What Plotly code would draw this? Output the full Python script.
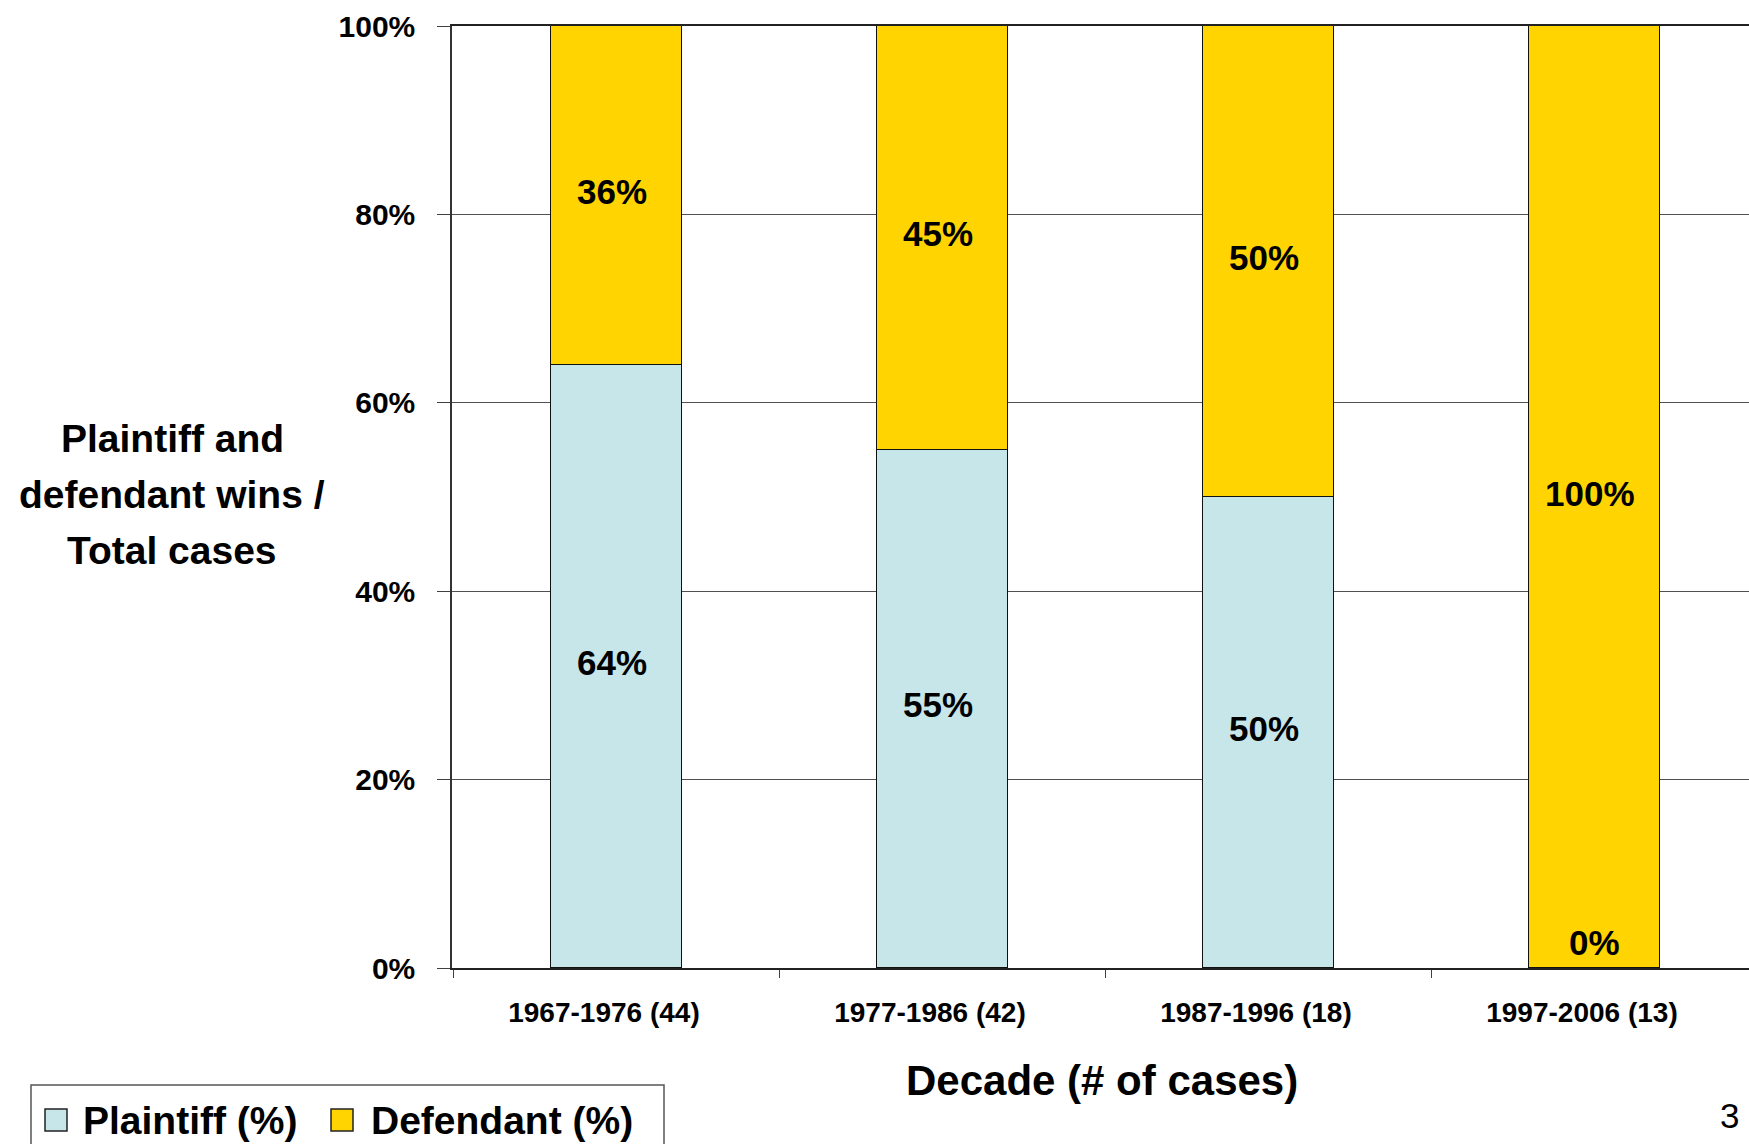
import plotly.graph_objects as go

# Decades and win shares (percent of cases)
decades = ["1967-1976 (44)", "1977-1986 (42)", "1987-1996 (18)", "1997-2006 (13)"]
plaintiff_pct = [64, 55, 50, 0]
defendant_pct = [36, 45, 50, 100]
series_names = ["Plaintiff (%)", "Defendant (%)"]
series_colors = ["#C6E6E9", "#FFD400"]
y_ticks = [0, 20, 40, 60, 80, 100]
y_title_lines = ["Plaintiff and", "defendant wins /", "Total cases"]
x_title = "Decade (# of cases)"
page_number = "3"

W, H = 1749, 1144
L, T, B = 452, 26, 176
plot_w = W - L
plot_h = H - T - B
cat_px = 326  # pixel width of one category slot
x_start = -0.506

FONT = "Liberation Sans, Arial, sans-serif"
LABEL_FONT = dict(family=FONT, size=35, color="black", weight="bold")


def px_x(px):
    return (px - L) / plot_w


def px_y(py):
    return (H - B - py) / plot_h


fig = go.Figure()
annotations = []
base = [0] * len(decades)
for name, vals, color in zip(series_names, [plaintiff_pct, defendant_pct], series_colors):
    fig.add_trace(go.Bar(
        x=decades,
        y=vals,
        name=name,
        width=0.402,
        marker=dict(color=color, line=dict(color="#111111", width=1)),
        showlegend=False,
    ))
    # value labels: centred in each segment; empty segments sit on their base
    for cat, b, v in zip(decades, base, vals):
        if v > 0:
            annotations.append(dict(
                x=cat, y=b + v / 2, xref="x", yref="y", text=f"{v}%",
                showarrow=False, xanchor="center", yanchor="middle",
                xshift=-5, yshift=4, font=LABEL_FONT,
            ))
        else:
            annotations.append(dict(
                x=cat, y=b, xref="x", yref="y", text=f"{v}%",
                showarrow=False, xanchor="center", yanchor="bottom",
                yshift=4, font=LABEL_FONT,
            ))
    base = [b + v for b, v in zip(base, vals)]

# multi-line y-axis title
for line, cy in zip(y_title_lines, [438, 494, 550]):
    annotations.append(dict(
        x=px_x(172), y=px_y(cy), xref="paper", yref="paper", text=line,
        showarrow=False, xanchor="center", yanchor="middle",
        font=dict(family=FONT, size=39, color="black", weight="bold"),
    ))

# x-axis title
annotations.append(dict(
    x=px_x(1102), y=px_y(1080), xref="paper", yref="paper", text=x_title,
    showarrow=False, xanchor="center", yanchor="middle",
    font=dict(family=FONT, size=42, color="black", weight="bold"),
))

# page number
annotations.append(dict(
    x=px_x(1729), y=px_y(1115), xref="paper", yref="paper", text=page_number,
    showarrow=False, xanchor="center", yanchor="middle",
    font=dict(family=FONT, size=35, color="black"),
))

shapes = []
# legend box
shapes.append(dict(
    type="rect", xref="paper", yref="paper",
    x0=px_x(31), x1=px_x(664), y0=px_y(1085), y1=px_y(1170),
    line=dict(color="#555555", width=1.5), fillcolor="white", layer="above",
))
for name, color, sx, tx in zip(series_names, series_colors, [45, 331], [81, 369]):
    shapes.append(dict(
        type="rect", xref="paper", yref="paper",
        x0=px_x(sx), x1=px_x(sx + 22), y0=px_y(1109), y1=px_y(1131),
        line=dict(color="#222222", width=1.5), fillcolor=color, layer="above",
    ))
    annotations.append(dict(
        x=px_x(tx), y=px_y(1120), xref="paper", yref="paper", text=name,
        showarrow=False, xanchor="left", yanchor="middle",
        font=dict(family=FONT, size=39, color="black", weight="bold"),
    ))

fig.update_layout(
    width=W, height=H,
    margin=dict(l=L, r=0, t=T, b=B, autoexpand=False),
    paper_bgcolor="white", plot_bgcolor="white",
    barmode="stack",
    bargap=0.0,
    showlegend=False,
    annotations=annotations,
    shapes=shapes,
    font=dict(family=FONT, color="black"),
)

fig.update_xaxes(
    type="category",
    categoryorder="array",
    categoryarray=decades,
    range=[x_start, x_start + plot_w / cat_px],
    tickson="boundaries",
    ticks="outside", ticklen=8, tickcolor="#404040", tickwidth=1,
    tickfont=dict(family=FONT, size=28, color="black", weight="bold"),
    ticklabelstandoff=19,
    ticklabelshift=-13,
    showline=True, linecolor="#222222", linewidth=1.5, mirror=True,
    showgrid=False, zeroline=False,
)

fig.update_yaxes(
    range=[0, 100],
    tickmode="array",
    tickvals=y_ticks,
    ticktext=[f"{v}%" for v in y_ticks],
    ticks="outside", ticklen=13, tickcolor="#404040", tickwidth=1,
    tickfont=dict(family=FONT, size=30, color="black", weight="bold"),
    ticklabelstandoff=16,
    showline=True, linecolor="#333333", linewidth=1.5,
    showgrid=True, gridcolor="#505050", gridwidth=1,
    zeroline=False,
)

fig.write_html("out.html")
